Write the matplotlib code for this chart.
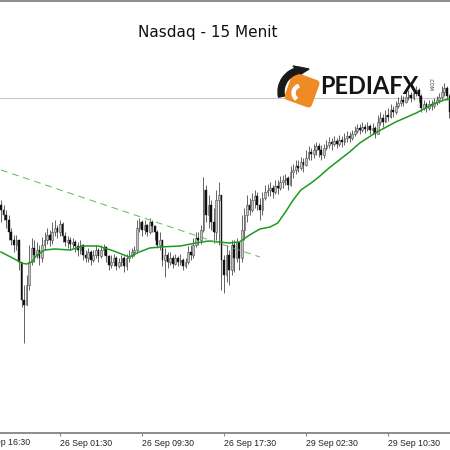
import matplotlib
matplotlib.use("Agg")
import matplotlib.pyplot as plt
import matplotlib.patches as mpatches
import matplotlib.transforms as mtransforms
import numpy as np

# 15 minute candles, one entry per bar (index 0 = left edge of the window)
close_px = [24690, 24685, 24680, 24668, 24660, 24655, 24660, 24638, 24600, 24595,
            24615, 24638, 24652, 24645, 24650, 24642, 24655, 24660, 24665, 24660,
            24668, 24672, 24668, 24676, 24664, 24658, 24660, 24656, 24658, 24654,
            24650, 24655, 24645, 24642, 24648, 24640, 24645, 24650, 24644, 24650,
            24653, 24644, 24635, 24638, 24642, 24634, 24638, 24642, 24634, 24642,
            24644, 24648, 24650, 24672, 24678, 24670, 24675, 24668, 24678, 24674,
            24668, 24655, 24660, 24640, 24645, 24638, 24642, 24636, 24642, 24638,
            24640, 24634, 24638, 24648, 24645, 24655, 24662, 24660, 24670, 24710,
            24685, 24695, 24678, 24668, 24700, 24705, 24640, 24625, 24645, 24630,
            24655, 24642, 24658, 24642, 24670, 24685, 24695, 24690, 24700, 24704,
            24695, 24690, 24702, 24708, 24710, 24712, 24708, 24714, 24712, 24718,
            24720, 24722, 24715, 24728, 24730, 24734, 24732, 24738, 24735, 24742,
            24748, 24746, 24750, 24754, 24750, 24745, 24752, 24755, 24758, 24756,
            24759, 24756, 24760, 24758, 24762, 24764, 24762, 24766, 24769, 24772,
            24770, 24773, 24771, 24774, 24770, 24772, 24766, 24778, 24782, 24778,
            24785, 24783, 24790, 24788, 24794, 24797, 24800, 24798, 24803, 24805,
            24802, 24807, 24810, 24804, 24792, 24796, 24792, 24796, 24794, 24798,
            24800, 24803, 24808, 24812, 24804, 24788]
high_px = [24700, 24695, 24690, 24685, 24672, 24665, 24665, 24660, 24638, 24615,
           24625, 24655, 24662, 24660, 24658, 24655, 24663, 24668, 24672, 24670,
           24678, 24680, 24675, 24680, 24678, 24668, 24664, 24663, 24662, 24660,
           24658, 24660, 24656, 24650, 24652, 24650, 24650, 24655, 24652, 24655,
           24656, 24654, 24645, 24645, 24646, 24644, 24642, 24645, 24644, 24646,
           24650, 24652, 24654, 24680, 24682, 24680, 24680, 24676, 24682, 24680,
           24675, 24670, 24668, 24660, 24652, 24648, 24648, 24645, 24646, 24644,
           24646, 24642, 24642, 24654, 24655, 24662, 24668, 24668, 24675, 24723,
           24715, 24705, 24700, 24692, 24710, 24718, 24705, 24645, 24655, 24650,
           24660, 24660, 24662, 24658, 24685, 24692, 24705, 24702, 24707, 24710,
           24708, 24702, 24708, 24715, 24716, 24718, 24715, 24720, 24720, 24724,
           24725, 24726, 24724, 24734, 24736, 24740, 24740, 24743, 24742, 24750,
           24754, 24752, 24756, 24758, 24757, 24755, 24756, 24760, 24763, 24762,
           24764, 24762, 24765, 24764, 24767, 24769, 24768, 24770, 24774, 24776,
           24776, 24778, 24776, 24778, 24776, 24777, 24774, 24785, 24788, 24786,
           24790, 24792, 24796, 24794, 24799, 24803, 24805, 24804, 24808, 24810,
           24808, 24812, 24814, 24812, 24806, 24800, 24798, 24800, 24800, 24802,
           24804, 24807, 24814, 24817, 24814, 24806]
low_px = [24678, 24680, 24672, 24660, 24655, 24648, 24650, 24630, 24593, 24557,
          24595, 24610, 24635, 24638, 24642, 24635, 24638, 24650, 24656, 24654,
          24656, 24664, 24662, 24664, 24658, 24654, 24652, 24650, 24652, 24648,
          24644, 24646, 24640, 24638, 24638, 24635, 24638, 24642, 24638, 24642,
          24645, 24638, 24630, 24632, 24634, 24630, 24632, 24634, 24628, 24630,
          24638, 24642, 24644, 24648, 24668, 24664, 24666, 24664, 24666, 24668,
          24660, 24652, 24650, 24634, 24623, 24632, 24635, 24632, 24635, 24634,
          24635, 24630, 24632, 24636, 24640, 24642, 24653, 24655, 24656, 24668,
          24678, 24672, 24670, 24657, 24660, 24655, 24610, 24607, 24618, 24615,
          24625, 24628, 24638, 24630, 24638, 24660, 24678, 24685, 24688, 24692,
          24690, 24680, 24685, 24700, 24704, 24704, 24702, 24706, 24706, 24710,
          24712, 24715, 24710, 24714, 24722, 24726, 24728, 24730, 24728, 24734,
          24740, 24740, 24742, 24745, 24743, 24740, 24742, 24750, 24752, 24750,
          24754, 24752, 24754, 24753, 24755, 24758, 24758, 24760, 24764, 24767,
          24766, 24768, 24767, 24769, 24766, 24766, 24762, 24766, 24775, 24773,
          24778, 24779, 24782, 24783, 24786, 24792, 24794, 24794, 24797, 24800,
          24798, 24800, 24804, 24798, 24788, 24790, 24788, 24790, 24790, 24792,
          24795, 24797, 24800, 24804, 24800, 24782]
first_open = 24695

# moving average, read at these bars
ma_bar = [0, 3, 6, 8, 10, 12, 14, 17, 21, 27,
          32, 38, 44, 48, 50, 54, 58, 62, 70, 76,
          81, 85, 89, 93, 97, 101, 105, 108, 111, 114,
          117, 121, 124, 128, 132, 136, 140, 146, 154, 162,
          165, 169, 173, 175]
ma_px = [24648, 24644, 24640, 24637, 24636, 24638, 24645, 24650, 24651, 24650,
         24654, 24654, 24649, 24645, 24643, 24648, 24652, 24653, 24654, 24657,
         24659, 24658, 24657, 24658, 24665, 24671, 24673, 24677, 24688, 24700,
         24710, 24717, 24723, 24732, 24740, 24748, 24757, 24767, 24778, 24787,
         24791, 24796, 24800, 24801]

trend_bar = [0, 101]
trend_px = [24730, 24643]
level_px = 24802

tick_bar = [-9, 23, 55, 87, 119, 151]
tick_lbl = ['25 Sep 16:30', '26 Sep 01:30', '26 Sep 09:30', '26 Sep 17:30',
            '29 Sep 02:30', '29 Sep 10:30']

c = np.array(close_px, dtype=float)
h = np.array(high_px, dtype=float)
l = np.array(low_px, dtype=float)
o = np.concatenate([[first_open], c[:-1]])
idx = np.arange(len(c))

fig = plt.figure(figsize=(4.5, 4.5), dpi=100)
ax = fig.add_axes([0, 17 / 450, 1, 432 / 450])

ax.axhline(level_px, color='#c8c8c8', lw=0.8, zorder=1)

# wicks then bodies
ax.vlines(idx, l, h, color='#4a4a4a', lw=0.6, zorder=2)
up = c >= o
body_lo = np.minimum(o, c)
body_h = np.maximum(np.abs(c - o), 0.6)
ax.bar(idx[up], body_h[up], bottom=body_lo[up], width=0.68,
       color='#c4c4c4', edgecolor='#4a4a4a', linewidth=0.4, zorder=3)
ax.bar(idx[~up], body_h[~up], bottom=body_lo[~up], width=0.68,
       color='#111111', edgecolor='#111111', linewidth=0.3, zorder=3)

ax.plot(ma_bar, ma_px, color='#1e9a1e', lw=1.1, zorder=4)
ax.plot(trend_bar, trend_px, color='#5fb85f', lw=0.7, ls=(0, (7, 5)), zorder=4)

ax.set_yticks([])
ax.set_xticks(tick_bar[1:])
ax.set_xticklabels(tick_lbl[1:], ha='left', fontsize=6.3, family='Liberation Sans', color='#222222')
ax.set_xlim(-0.39, 175.2)
ax.set_ylim(24467, 24899)
ax.tick_params(axis='x', length=2.5, width=0.8, color='#888888', pad=1.5)
# first label sits left of the window and is cut by the edge, as in the terminal
trans = mtransforms.blended_transform_factory(ax.transData, ax.transAxes)
ax.text(tick_bar[0], -0.011, tick_lbl[0], transform=trans, ha='left', va='top',
        fontsize=6.3, family='Liberation Sans', color='#222222', clip_on=False)
for s in ['left', 'right']:
    ax.spines[s].set_visible(False)
ax.spines['top'].set_color('#777777')
ax.spines['top'].set_linewidth(1.2)
ax.spines['bottom'].set_color('#8c8c8c')
ax.spines['bottom'].set_linewidth(1.4)

fig.text(208 / 450, 1 - 33 / 450, 'Nasdaq - 15 Menit', ha='center', va='center',
         fontsize=11, color='#111111')

# PEDIAFX logo (figure coordinates, given in pixels from top-left)
def fxy(px, py):
    return (px / 450, 1 - py / 450)

ang = np.deg2rad(20)
sq = []
for dx, dy in [(-1, -1), (1, -1), (1, 1), (-1, 1)]:
    rx = 11 * (dx * np.cos(ang) - dy * np.sin(ang))
    ry = 11 * (dx * np.sin(ang) + dy * np.cos(ang))
    sq.append(fxy(302 + rx, 90 + ry))
blob = mpatches.Polygon(sq, closed=True, facecolor='#f08a24', edgecolor='#f08a24',
                        linewidth=5, joinstyle='round', transform=fig.transFigure, zorder=10)
fig.add_artist(blob)
swoosh = mpatches.Wedge(fxy(303, 92), 25 / 450, 98, 192, width=6 / 450,
                        color='#1a1a1a', transform=fig.transFigure, zorder=11)
fig.add_artist(swoosh)
tip = mpatches.Polygon([fxy(293, 66), fxy(309, 69), fxy(301, 74)], closed=True,
                       color='#1a1a1a', transform=fig.transFigure, zorder=11)
fig.add_artist(tip)
notch = mpatches.Wedge(fxy(301, 93), 9 / 450, 110, 230, width=3 / 450,
                       color='white', transform=fig.transFigure, zorder=12)
fig.add_artist(notch)
fig.text(320 / 450, 1 - 86 / 450, 'PEDIAFX', ha='left', va='center', fontsize=17,
         fontweight='bold', family='Lato', color='#151515', zorder=12)
fig.text(430 / 450, 1 - 84 / 450, '.COM', ha='center', va='center', fontsize=3.5,
         rotation=-90, color='#333333', zorder=12)

fig.savefig('out.png', dpi=100, facecolor='white')
